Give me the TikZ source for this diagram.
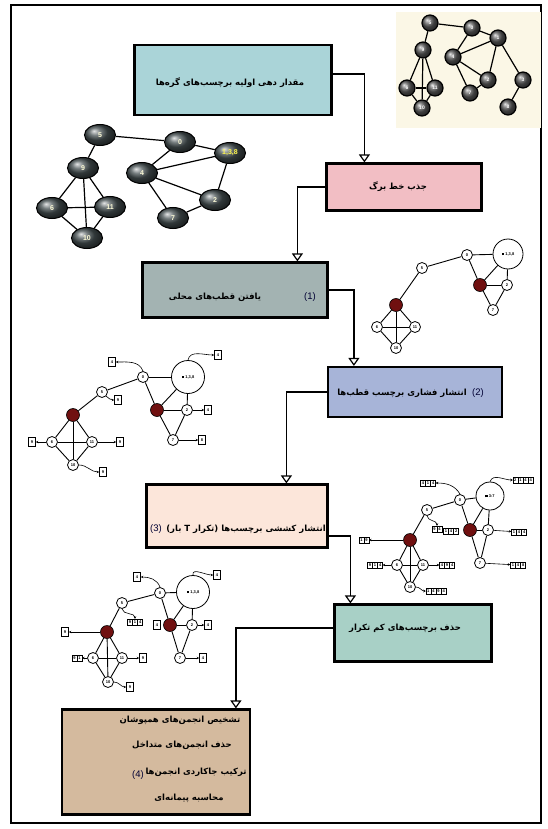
\documentclass[tikz,border=0pt]{standalone}
\usepackage{fontspec}
\setmainfont{Liberation Sans}
\newfontfamily\fa[Script=Arabic]{DejaVu Sans}
\TeXXeTstate=1
\usetikzlibrary{shapes.geometric, shapes.multipart, arrows.meta, positioning}
\definecolor{initblue}{RGB}{170,212,216}
\definecolor{leafpink}{RGB}{242,190,196}
\definecolor{polegray}{RGB}{163,179,178}
\definecolor{pushblue}{RGB}{167,180,216}
\definecolor{pullpeach}{RGB}{252,230,218}
\definecolor{prunegreen}{RGB}{168,208,198}
\definecolor{finaltan}{RGB}{212,186,158}
\definecolor{cream}{RGB}{251,247,230}
\definecolor{polered}{RGB}{112,16,16}
\definecolor{ballgray}{RGB}{70,80,82}

\begin{document}
\begin{tikzpicture}[x=1pt, y=-1pt,
    box/.style={draw=black, line width=2.2pt, inner sep=0pt},
    falbl/.style={font=\fa\bfseries\fontsize{8.5}{10}\selectfont, inner sep=1pt},
    numlbl/.style={font=\fontsize{9.5}{10}\selectfont, text=black!80!blue, inner sep=1pt},
    flow/.style={line width=1.8pt, -{Triangle[open, width=11pt, length=8pt, line width=1.2pt]}},
    sphere/.style={circle, draw=black, line width=1.2pt, ball color=gray!70!black, minimum size=16pt, inner sep=0pt, text=white, font=\bfseries\fontsize{5}{5}\selectfont},
    blob/.style={ellipse, draw=black, line width=1pt, ball color=ballgray, minimum width=31pt, minimum height=21pt, inner sep=0pt, text=white!85!yellow, font=\bfseries\fontsize{7}{7}\selectfont},
    vtx/.style={circle, draw=black, line width=0.8pt, fill=white, minimum size=11pt, inner sep=0pt, font=\bfseries\fontsize{4}{4}\selectfont},
    pole/.style={circle, draw=black, line width=0.6pt, fill=polered, minimum size=13pt, inner sep=0pt},
    hub/.style={circle, draw=black, line width=0.8pt, fill=white, minimum size=30pt, inner sep=0pt, font=\bfseries\fontsize{4}{4}\selectfont},
    link/.style={line width=0.9pt},
    tag/.style={draw=black, line width=0.6pt, fill=white, minimum width=7pt, minimum height=9pt, inner sep=0.5pt, font=\bfseries\fontsize{4}{4}\selectfont},
    mtag/.style={draw=black, line width=0.5pt, fill=white, rectangle split, rectangle split horizontal, rectangle split parts=#1, inner xsep=1.2pt, inner ysep=1.5pt, font=\bfseries\fontsize{4}{4}\selectfont},
    tagarrow/.style={line width=0.6pt, -{Stealth[length=2.5pt, width=2.5pt]}}
  ]
\useasboundingbox (0,0) rectangle (547,829);
% outer frame
\draw[line width=2pt] (11,5) rectangle (541,823);

% flow boxes
\node[box, fill=initblue, minimum width=197pt, minimum height=70pt] (init) at (233,80) {};
\node[falbl] (initlbl) at (230,83) {\beginR مقدار دهی اولیه برچسب‌های گره‌ها\endR};
\node[box, fill=leafpink, minimum width=155pt, minimum height=47pt] (leaf) at (404,187) {};
\node[falbl] (leaflbl) at (398,187) {\beginR جذب خط برگ\endR};
\node[box, fill=polegray, minimum width=185pt, minimum height=55pt] (poles) at (235,290) {};
\node[falbl] (poleslbl) at (215,297) {\beginR یافتن قطب‌های محلی\endR};
\node[numlbl] (polesnum) at (310,297) {(1)};
\node[box, fill=pushblue, minimum width=174pt, minimum height=50pt] (push) at (415,392) {};
\node[falbl] (pushlbl) at (402,393) {\beginR انتشار فشاری برچسب قطب‌ها\endR};
\node[numlbl] (pushnum) at (478,393) {(2)};
\node[box, fill=pullpeach, minimum width=181pt, minimum height=63pt] (pull) at (237,516) {};
\node[falbl] (pulllbl) at (246,529) {\beginR انتشار کششی برچسب‌ها (تکرار T بار)\endR};
\node[numlbl] (pullnum) at (156,529) {(3)};
\node[box, fill=prunegreen, minimum width=157pt, minimum height=57pt] (prune) at (413,633) {};
\node[falbl] (prunelbl) at (405,628) {\beginR حذف برچسب‌های کم تکرار\endR};
\node[box, fill=finaltan, minimum width=188pt, minimum height=105pt] (final) at (156,762) {};
\node[falbl] (fin1) at (180,720) {\beginR تشخیص انجمن‌های همپوشان\endR};
\node[falbl] (fin2) at (182,745) {\beginR حذف انجمن‌های متداخل\endR};
\node[falbl] (fin3) at (196,772) {\beginR ترکیب جاکاردی انجمن‌ها\endR};
\node[falbl] (fin4) at (189,798) {\beginR محاسبه پیمانه‌ای\endR};
\node[numlbl] (finnum) at (138,775) {(4)};

\draw[flow] ([yshift=6pt]init.east) -| ([xshift=39pt]leaf.north west);
\draw[flow] (leaf.west) -| ([xshift=156pt]poles.north west);
\draw[flow] (poles.east) -| ([xshift=27pt]push.north west);
\draw[flow] (push.west) -| ([xshift=141pt]pull.north west);
\draw[flow] ([yshift=-20pt]pull.east) -| ([xshift=17pt]prune.north west);
\draw[flow] ([yshift=5pt]prune.west) -| ([xshift=175pt]final.north west);

% input graph
\fill[cream] (396,12) rectangle (541,128);
\foreach \n/\x/\y/\l in {a5/430/23/5, a0/472/28/0, a1/498/38/1, a9/423/50/9, a4/453/57/4, a2/488/80/2, a3/523/80/3, a6/407/88/6, a11/435/88/11, a7/470/93/7, a8/508/107/8, a10/422/108/10}
  \node[sphere] (\n) at (\x,\y) {\l};
\foreach \a/\b in {a5/a0, a5/a9, a0/a4, a0/a1, a1/a4, a1/a2, a1/a3, a3/a8, a4/a2, a4/a7, a7/a2, a9/a6, a9/a11, a9/a10, a6/a11, a6/a10, a11/a10}
  \draw[line width=1.2pt] (\a) -- (\b);

% graph after leaf absorption
\foreach \n/\x/\y/\l in {b5/100/135/5, b0/180/142/0, b9/83/168/9, b4/142/173/4, b6/52/208/6, b11/110/207/11, b2/215/200/2, b7/173/218/7, b10/87/238/10}
  \node[blob] (\n) at (\x,\y) {\l};
\node[blob, text=yellow!70!white] (b138) at (230,153) {1,3,8};
\foreach \a/\b in {b5/b0, b5/b9, b0/b4, b0/b138, b4/b138, b4/b2, b4/b7, b7/b2, b138/b2, b9/b6, b9/b11, b9/b10, b6/b11, b6/b10, b11/b10}
  \draw[line width=1.2pt] (\a) -- (\b);

% local poles
\foreach \n/\x/\y/\l in {c0/467/255/0, c5/422/268/5, c2/507/285/2, c7/493/310/7, c6/377/327/6, c11/415/327/11, c10/396/348/10}
  \node[vtx] (\n) at (\x,\y) {\l};
\node[hub] (cb) at (508,254) {\rule{2.5pt}{2.5pt} 1,3,8};
\node[pole] (c4) at (480,285) {};
\node[pole] (c9) at (396,305) {};
\foreach \a/\b in {c5/c0, c5/c9, c0/cb, c0/c4, c4/cb, c4/c2, c4/c7, c2/cb, c7/c2, c9/c6, c9/c11, c9/c10, c6/c11, c6/c10, c11/c10}
  \draw[link] (\a) -- (\b);

% push propagation
\foreach \n/\x/\y/\l in {d0/143/377/0, d5/102/392/5, d2/187/410/2, d7/173/440/7, d6/52/442/6, d11/92/442/11, d10/73/465/10}
  \node[vtx] (\n) at (\x,\y) {\l};
\node[hub, minimum size=33pt] (db) at (188,377) {\rule{2.5pt}{2.5pt} 1,3,8};
\node[pole] (d4) at (157,410) {};
\node[pole] (d9) at (73,415) {};
\foreach \a/\b in {d5/d0, d5/d9, d0/db, d0/d4, d4/db, d4/d2, d4/d7, d2/db, d7/d2, d9/d6, d9/d11, d9/d10, d6/d11, d6/d10, d11/d10}
  \draw[link] (\a) -- (\b);
\foreach \t/\x/\y/\l in {dt0/112/362/4, dtb/218/355/4, dt5/118/400/9, dt2/208/410/4, dt7/202/440/8, dt6/32/442/9, dt11/120/442/9, dt10/103/472/9}
  \node[tag] (\t) at (\x,\y) {\l};
\draw[tagarrow] (d0.north) to[out=110, in=0] (dt0.east);
\draw[tagarrow] (db.north) to[out=80, in=180] (dtb.west);
\draw[tagarrow] (d5.south east) to[out=-40, in=180] (dt5.west);
\draw[tagarrow] (d2) -- (dt2);
\draw[tagarrow] (d7) -- (dt7);
\draw[tagarrow] (d6) -- (dt6);
\draw[tagarrow] (d11) -- (dt11);
\draw[tagarrow] (d10.east) to[out=0, in=180] (dt10.west);

% pull propagation
\foreach \n/\x/\y/\l in {e0/460/500/0, e5/427/510/5, e2/488/530/2, e7/480/563/7, e6/397/565/6, e11/423/565/11, e10/410/587/10}
  \node[vtx] (\n) at (\x,\y) {\l};
\node[hub, minimum size=28pt] (eb) at (490,496) {\rule{2.5pt}{2.5pt} 3:7};
\node[pole] (e4) at (470,530) {};
\node[pole] (e9) at (410,540) {};
\foreach \a/\b in {e5/e0, e5/e9, e0/eb, e0/e4, e4/eb, e4/e2, e4/e7, e2/eb, e7/e2, e9/e6, e9/e11, e9/e10, e6/e11, e6/e10, e11/e10}
  \draw[link] (\a) -- (\b);
\node[mtag=3] (et0) at (428,483) {4\nodepart{two}1\nodepart{three}4};
\node[mtag=4] (etb) at (523,480) {2\nodepart{two}1\nodepart{three}4\nodepart{four}4};
\node[mtag=2] (et5) at (437,529) {9\nodepart{two}4};
\node[mtag=3] (et4) at (451,531) {1\nodepart{two}4\nodepart{three}2};
\node[mtag=3] (et2) at (519,532) {1\nodepart{two}4\nodepart{three}4};
\node[mtag=2] (et9) at (364,540) {1\nodepart{two}9};
\node[mtag=3] (et6) at (375,565) {9\nodepart{two}1\nodepart{three}4};
\node[mtag=3] (et11) at (447,565) {4\nodepart{two}9\nodepart{three}4};
\node[mtag=3] (et7) at (518,565) {1\nodepart{two}4\nodepart{three}8};
\node[mtag=4] (et10) at (436,591) {1\nodepart{two}4\nodepart{three}9\nodepart{four}4};
\draw[tagarrow] (e0.north) to[out=120, in=0] (et0.east);
\draw[tagarrow] (eb.north) to[out=70, in=180] (etb.west);
\draw[tagarrow] (e5.south) to[out=-80, in=90] (et5.north);
\draw[tagarrow] (e2) -- (et2);
\draw[tagarrow] (e9) -- (et9);
\draw[tagarrow] (e6) -- (et6);
\draw[tagarrow] (e11) -- (et11);
\draw[tagarrow] (e7) -- (et7);
\draw[tagarrow] (e10.east) to[out=0, in=180] (et10.west);

% after pruning
\foreach \n/\x/\y/\l in {f0/160/593/0, f5/122/603/5, f2/192/625/2, f7/180/658/7, f6/93/658/6, f11/122/658/11, f10/108/682/10}
  \node[vtx] (\n) at (\x,\y) {\l};
\node[hub, minimum size=33pt] (fb) at (193,592) {\rule{2.5pt}{2.5pt} 1,3,8};
\node[pole] (f4) at (170,625) {};
\node[pole] (f9) at (107,632) {};
\foreach \a/\b in {f5/f0, f5/f9, f0/fb, f0/f4, f4/fb, f4/f2, f4/f7, f2/fb, f7/f2, f9/f6, f9/f11, f9/f10, f6/f11, f6/f10, f11/f10}
  \draw[link] (\a) -- (\b);
\foreach \t/\x/\y/\l in {ft0/137/577/4, ftb/217/575/4, ft4/157/625/4, ft2/208/625/4, ft9/65/632/9, ft11/143/658/9, ft7/203/658/4, ft10/130/687/9}
  \node[tag] (\t) at (\x,\y) {\l};
\node[mtag=3] (ft5) at (135,622) {9\nodepart{two}1\nodepart{three}4};
\node[mtag=2] (ft6) at (77,658) {9\nodepart{two}1};
\draw[tagarrow] (f0.north) to[out=110, in=0] (ft0.east);
\draw[tagarrow] (fb.north) to[out=100, in=180] (ftb.west);
\draw[tagarrow] (f5.south) to[out=-80, in=90] (ft5.north);
\draw[tagarrow] (f9) -- (ft9);
\draw[tagarrow] (f2) -- (ft2);
\draw[tagarrow] (f6) -- (ft6);
\draw[tagarrow] (f11) -- (ft11);
\draw[tagarrow] (f7) -- (ft7);
\draw[tagarrow] (f10.east) to[out=0, in=180] (ft10.west);
\end{tikzpicture}
\end{document}
